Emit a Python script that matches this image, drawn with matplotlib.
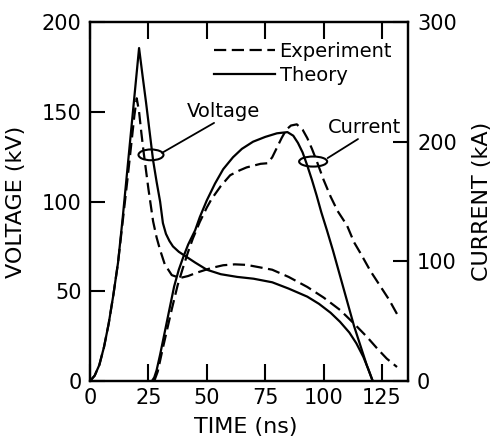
import matplotlib
matplotlib.use('Agg')
from matplotlib import pyplot as plt
from matplotlib.patches import Ellipse

plt.rc('font', family='DejaVu Sans', size=14)
plt.rc('lines', linewidth=1.6)

# voltage (kV) against time (ns)
t_v_theory = [0, 2, 4, 6, 8, 10, 12, 14, 16, 18, 20, 21, 22.5, 24, 25.5, 27, 28.5, 30,
              31.2, 32.5, 34, 35.5, 38, 41.5, 45, 50, 56, 63, 70, 78, 85, 93, 98, 103,
              107, 111, 114, 117, 119, 121]
v_theory = [0, 3, 9, 19, 32, 48, 66, 91, 118, 145, 172, 185.5, 170, 155, 139, 123, 111, 100,
            88, 82, 78, 75, 72, 69, 66, 62, 59.5, 58, 57, 55, 51.5, 47, 43, 38,
            33, 27, 21, 13.4, 7, 0]

t_v_exp = [0, 2, 4, 6, 8, 10, 12, 14, 16, 18, 19, 20, 21, 22, 23, 24, 25, 26, 27, 28.5, 30,
           32, 35, 38.5, 42, 46, 52, 57, 62, 67, 72, 78, 85, 93, 100, 107, 113, 118.6,
           123, 127, 131.4]
v_exp = [0, 3, 9, 19, 32, 48, 66, 89, 112, 136, 148, 157.5, 150, 138, 127, 117, 107, 98, 89,
         80, 73, 65, 59, 57.4, 58.5, 60.5, 63, 64.5, 65, 64.7, 63.5, 62, 58, 52.4, 46.5,
         39.6, 32, 24.5, 18, 12.5, 7.8]

# current (kA) against time (ns)
t_i_theory = [26.5, 27.5, 28.5, 30, 32, 34, 36, 38, 40, 42, 45, 47, 50, 53.5, 57, 61.2, 65,
              69.8, 75, 80, 84.5, 87, 89, 91, 93, 95, 97, 99, 101.4, 104, 107, 110, 113,
              116, 118.5, 121]
i_theory = [0, 3, 9, 22, 41, 60, 79, 93, 104, 114, 126, 137, 151, 165, 177, 187, 194,
            200, 204, 207, 208, 205, 199, 191, 180, 168, 155, 141, 126, 109, 88, 67, 46,
            28, 13, 0]

t_i_exp = [27.5, 29, 31, 33, 35, 37.5, 40, 42, 44, 47, 50, 52, 56, 60, 64, 67, 70, 73, 76,
           78, 80, 82, 84, 86, 88.5, 91, 93, 95, 97, 100, 103, 106, 110, 113, 116, 120,
           124, 128, 131.4]
i_exp = [0, 8, 26, 43, 60, 80, 96, 108, 119, 133, 145, 152, 163, 172, 176, 178.5, 180,
         181.5, 182, 187, 195, 203, 210, 213.5, 214.5, 210, 203, 194, 184, 168, 154, 142,
         130, 116, 106, 92, 80, 68, 56]

dash = (5.5, 2.5)

fig = plt.figure(figsize=(4.94, 4.37), dpi=100)
ax = fig.add_axes([0.1822, 0.1281, 0.6437, 0.8215])
ax2 = ax.twinx()

l_exp, = ax.plot(t_v_exp, v_exp, color='black', linestyle=(0, dash))
l_theo, = ax.plot(t_v_theory, v_theory, color='black')
ax2.plot(t_i_exp, i_exp, color='black', linestyle=(0, dash))
ax2.plot(t_i_theory, i_theory, color='black')

ax.set_xlim(0, 136.1)
ax.set_ylim(0, 200)
ax2.set_ylim(0, 300)

ax.set_xticks([0, 25, 50, 75, 100, 125])
ax.set_yticks([0, 50, 100, 150, 200])
ax2.set_yticks([0, 100, 200, 300])
ax.tick_params(axis='x', direction='in', length=12, width=1.5, top=True, pad=5, labelsize=15)
ax.tick_params(axis='y', direction='in', length=11, width=1.5, pad=6, labelsize=15)
ax2.tick_params(axis='y', direction='in', length=11, width=1.5, pad=6.5, labelsize=15)
for a in (ax, ax2):
    for sp in a.spines.values():
        sp.set_linewidth(1.6)

ax.set_xlabel('TIME (ns)', fontsize=16)
ax.xaxis.set_label_coords(0.49, -0.10)
ax.set_ylabel('VOLTAGE (kV)', fontsize=16)
ax.yaxis.set_label_coords(-0.2, 0.5)
ax2.set_ylabel('CURRENT (kA)', fontsize=16)
ax2.yaxis.set_label_coords(1.2, 0.5)

# ellipse markers tying each curve pair to its label
ax.add_patch(Ellipse((26.1, 126), 10.7, 6, fill=False, lw=1.5, color='black'))
ax2.add_patch(Ellipse((95.5, 183.4), 12, 8.4, fill=False, lw=1.5, color='black'))
ax.annotate('', xy=(30.8, 127.1), xytext=(53.1, 143.8),
            arrowprops=dict(arrowstyle='-', lw=1.3, color='black', shrinkA=0, shrinkB=0))
ax.text(41.5, 147.2, 'Voltage', fontsize=14, va='baseline')
ax2.annotate('', xy=(101.7, 186.3), xytext=(114.7, 202.2),
             arrowprops=dict(arrowstyle='-', lw=1.3, color='black', shrinkA=0, shrinkB=0))
ax2.text(101.9, 207.2, 'Current', fontsize=14, va='baseline')

ax.legend([l_exp, l_theo], ['Experiment', 'Theory'], loc='upper right',
          bbox_to_anchor=(0.95, 0.945), frameon=False, handlelength=3.1,
          handletextpad=0.25, labelspacing=0.25, borderpad=0, borderaxespad=0,
          fontsize=14)

fig.savefig('out.png', dpi=100)
